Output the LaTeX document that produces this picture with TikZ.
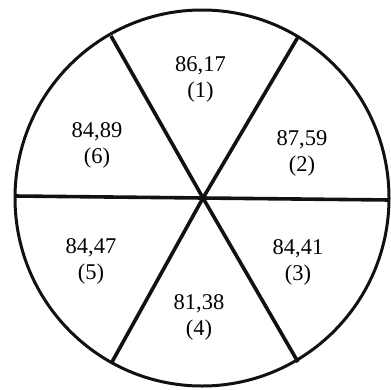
\documentclass[tikz,border=0pt]{standalone}
\usepackage{fontspec}
\setmainfont{Liberation Serif}
\usetikzlibrary{positioning}
\definecolor{RimBlack}{HTML}{111111}
\tikzset{
  rim/.style={draw=RimBlack,line width=3pt},
  spoke/.style={draw=RimBlack,line width=3.6pt},
  score/.style={align=center,inner sep=0pt,font=\fontsize{22.5}{26}\selectfont}
}
\begin{document}
\begin{tikzpicture}[x=1pt,y=-1pt]
  \useasboundingbox (0,0) rectangle (391,389);
  \coordinate (hub) at (203,198);
  \draw[rim] (202,198) ellipse [x radius=187,y radius=188];
  % spoke ends on the rim
  \coordinate (w) at (15,196);
  \coordinate (e) at (390,200);
  \coordinate (nw) at (111,36);
  \coordinate (se) at (298,362);
  \coordinate (ne) at (298,37);
  \coordinate (sw) at (112,362);
  \draw[spoke] (w) -- (hub) -- (e);
  \draw[spoke] (nw) -- (hub) -- (se);
  \draw[spoke] (ne) -- (hub) -- (sw);
  % sector scores
  \node[score] (s1) at (200.5,79) {86,17\\(1)};
  \node[score] (s2) at (302,153) {87,59\\(2)};
  \node[score] (s3) at (298,262) {84,41\\(3)};
  \node[score] (s4) at (199,317) {81,38\\(4)};
  \node[score] (s5) at (91,261) {84,47\\(5)};
  \node[score] (s6) at (97,145) {84,89\\(6)};
\end{tikzpicture}
\end{document}
